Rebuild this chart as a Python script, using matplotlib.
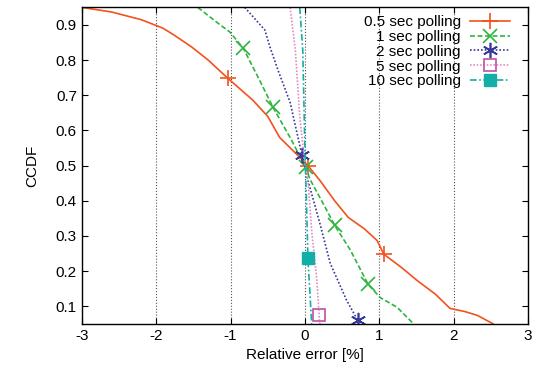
import matplotlib
matplotlib.use("Agg")
import matplotlib.pyplot as plt

plt.rcParams['font.family'] = ['Liberation Sans', 'DejaVu Sans']

# CCDF curves (x = relative error %, y = CCDF)
x_05 = [-3.0, -2.6, -2.2, -1.91, -1.75, -1.52, -1.3, -1.04, -0.70, -0.5, -0.34, -0.1, 0.04, 0.2, 0.4, 0.58, 0.8, 0.97, 1.06, 1.3, 1.51, 1.75, 1.95, 2.15, 2.32, 2.53]
y_05 = [0.95, 0.937, 0.915, 0.891, 0.87, 0.837, 0.80, 0.749, 0.686, 0.64, 0.58, 0.53, 0.50, 0.458, 0.40, 0.353, 0.32, 0.287, 0.248, 0.21, 0.173, 0.135, 0.094, 0.085, 0.074, 0.05]
x_1 = [-1.44, -1.2, -1.01, -0.83, -0.61, -0.43, -0.2, 0.01, 0.07, 0.25, 0.40, 0.61, 0.85, 1.01, 1.24, 1.46]
y_1 = [0.95, 0.91, 0.88, 0.834, 0.743, 0.666, 0.58, 0.495, 0.46, 0.39, 0.33, 0.26, 0.162, 0.125, 0.097, 0.05]
x_2 = [-0.81, -0.54, -0.47, -0.36, -0.2, -0.04, 0.04, 0.2, 0.34, 0.56, 0.71, 0.73]
y_2 = [0.95, 0.886, 0.837, 0.77, 0.68, 0.53, 0.458, 0.336, 0.222, 0.117, 0.06, 0.05]
x_5 = [-0.2, -0.13, -0.07, 0.0, 0.04, 0.09, 0.16, 0.19, 0.2]
y_5 = [0.95, 0.83, 0.64, 0.5, 0.46, 0.316, 0.173, 0.074, 0.05]
x_10 = [-0.07, -0.03, 0.0, 0.02, 0.04, 0.07, 0.09]
y_10 = [0.95, 0.83, 0.54, 0.4, 0.236, 0.125, 0.05]

# marker positions
mx_05, my_05 = [-1.04, 0.04, 1.06], [0.749, 0.50, 0.248]
mx_1, my_1 = [-0.83, -0.43, 0.01, 0.40, 0.85], [0.834, 0.666, 0.495, 0.33, 0.162]
mx_2, my_2 = [-0.04, 0.71], [0.53, 0.06]
mx_5, my_5 = [0.19], [0.074]
mx_10, my_10 = [0.04], [0.236]

labels = ['0.5 sec polling', '1 sec polling', '2 sec polling', '5 sec polling', '10 sec polling']
xticks = [-3, -2, -1, 0, 1, 2, 3]
yticks = [0.1, 0.2, 0.3, 0.4, 0.5, 0.6, 0.7, 0.8, 0.9]

fig = plt.figure(figsize=(5.49, 3.71), dpi=100)
ax = fig.add_axes([0.149, 0.127, 0.813, 0.854])

series = [
    (x_05, y_05, mx_05, my_05, '#f4511e', '-', '+', dict(ms=11, mew=1.2)),
    (x_1, y_1, mx_1, my_1, '#2db540', (0, (3, 1.5)), 'x', dict(ms=10, mew=1.2)),
    (x_2, y_2, mx_2, my_2, '#343896', (0, (1, 1.2)), (6, 2, 0), dict(ms=11, mew=1.2)),
    (x_5, y_5, mx_5, my_5, '#e38bc8', (0, (1, 1)), 's', dict(ms=9, mew=1.2, mfc='none', mec='#c0509f')),
    (x_10, y_10, mx_10, my_10, '#14aea8', (0, (4, 1.5, 1, 1.5)), 's', dict(ms=9, mew=1.0)),
]

handles = []
for (xs, ys, mxs, mys, c, ls, mk, mkw), lab in zip(series, labels):
    ax.plot(xs, ys, color=c, linestyle=ls, lw=1.2)
    ax.plot(mxs, mys, linestyle='none', marker=mk, color=c, **mkw)
    h, = ax.plot([], [], color=c, linestyle=ls, lw=1.2, marker=mk, label=lab, **mkw)
    handles.append(h)

ax.set_xlim(-3, 3)
ax.set_ylim(0.05, 0.951)
ax.set_xticks(xticks)
ax.set_xticklabels([str(t) for t in xticks])
ax.set_yticks(yticks)
ax.set_yticklabels([f'{t:.1f}' for t in yticks])
ax.tick_params(direction='in', top=True, right=True, labelsize=11, length=4)
ax.grid(axis='x', linestyle=':', color='#555555', lw=0.8)
for s in ax.spines.values():
    s.set_linewidth(1.0)

ax.set_xlabel('Relative error [%]', fontsize=11)
ax.set_ylabel('CCDF', fontsize=11, labelpad=12)

leg = ax.legend(handles=handles, loc='upper right', bbox_to_anchor=(1.0, 1.032),
                frameon=False, markerfirst=False,
                fontsize=11, handlelength=2.6, labelspacing=0.05,
                borderaxespad=0.8, handletextpad=0.6)
for t in leg.get_texts():
    t.set_ha('right')
leg._legend_box.align = 'right'

fig.savefig('out.png', dpi=100)
